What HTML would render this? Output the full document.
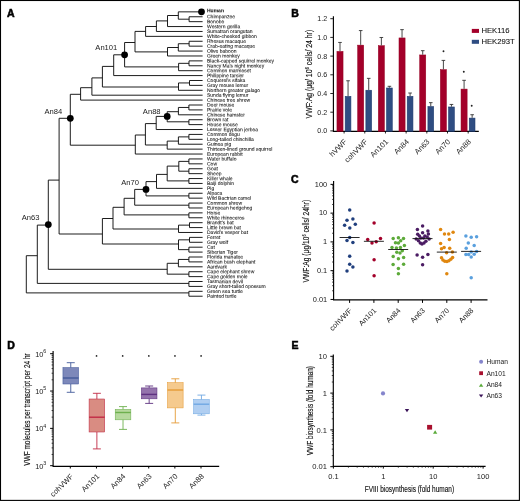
<!DOCTYPE html>
<html><head><meta charset="utf-8"><title>Figure</title><style>
html,body{margin:0;padding:0;background:#fff;width:520px;height:501px;overflow:hidden;}
svg{display:block;font-family:"Liberation Sans",sans-serif;}
svg{will-change:transform;}
</style></head><body>
<svg width="520" height="501" viewBox="0 0 520 501">
<rect width="520" height="501" fill="#fff"/>
<path d="M189.10 16.75V21.66 M189.10 16.75H202.6 M189.10 21.66H202.6 M178.30 11.85V19.20 M178.30 11.85H202.6 M178.30 19.20H189.10 M167.50 15.50V26.56 M167.50 15.50H178.30 M167.50 26.56H202.6 M156.40 20.90V31.46 M156.40 20.90H167.50 M156.40 31.46H202.6 M145.60 26.50V36.36 M145.60 26.50H156.40 M145.60 36.36H202.6 M189.10 41.27V46.17 M189.10 41.27H202.6 M189.10 46.17H202.6 M178.30 43.72V51.07 M178.30 43.72H189.10 M178.30 51.07H202.6 M167.50 47.50V55.98 M167.50 47.50H178.30 M167.50 55.98H202.6 M135.00 31.40V51.90 M135.00 31.40H145.60 M135.00 51.90H167.50 M189.00 60.88V65.78 M189.00 60.88H202.6 M189.00 65.78H202.6 M178.60 63.33V70.69 M178.60 63.33H189.00 M178.60 70.69H202.6 M124.60 42.50V66.90 M124.60 42.50H135.00 M124.60 66.90H178.60 M113.70 54.80V75.59 M113.70 54.80H124.60 M113.70 75.59H202.6 M189.50 80.49V85.39 M189.50 80.49H202.6 M189.50 85.39H202.6 M178.50 82.94V90.30 M178.50 82.94H189.50 M178.50 90.30H202.6 M102.40 66.40V87.00 M102.40 66.40H113.70 M102.40 87.00H178.50 M91.90 77.90V95.20 M91.90 77.90H102.40 M91.90 95.20H202.6 M80.60 87.70V100.10 M80.60 87.70H91.90 M80.60 100.10H202.6 M188.90 105.01V109.91 M188.90 105.01H202.6 M188.90 109.91H202.6 M178.40 107.46V114.81 M178.40 107.46H188.90 M178.40 114.81H202.6 M188.90 119.72V124.62 M188.90 119.72H202.6 M188.90 124.62H202.6 M167.20 111.70V121.80 M167.20 111.70H178.40 M167.20 121.80H188.90 M156.20 116.40V129.52 M156.20 116.40H167.20 M156.20 129.52H202.6 M188.90 134.42V139.33 M188.90 134.42H202.6 M188.90 139.33H202.6 M178.40 136.88V144.23 M178.40 136.88H188.90 M178.40 144.23H202.6 M167.20 141.10V149.13 M167.20 141.10H178.40 M167.20 149.13H202.6 M145.40 123.60V145.00 M145.40 123.60H156.20 M145.40 145.00H167.20 M135.30 135.00V154.04 M135.30 135.00H145.40 M135.30 154.04H202.6 M70.30 94.30V145.20 M70.30 94.30H80.60 M70.30 145.20H135.30 M188.90 158.94V163.84 M188.90 158.94H202.6 M188.90 163.84H202.6 M188.90 168.75V173.65 M188.90 168.75H202.6 M188.90 173.65H202.6 M178.80 161.39V171.20 M178.80 161.39H188.90 M178.80 171.20H188.90 M188.90 178.55V183.45 M188.90 178.55H202.6 M188.90 183.45H202.6 M167.20 166.10V180.90 M167.20 166.10H178.80 M167.20 180.90H188.90 M156.50 174.40V188.36 M156.50 174.40H167.20 M156.50 188.36H202.6 M188.90 193.26V198.16 M188.90 193.26H202.6 M188.90 198.16H202.6 M146.00 181.60V195.90 M146.00 181.60H156.50 M146.00 195.90H188.90 M188.90 203.07V207.97 M188.90 203.07H202.6 M188.90 207.97H202.6 M134.70 189.40V205.20 M134.70 189.40H146.00 M134.70 205.20H188.90 M188.90 212.87V217.78 M188.90 212.87H202.6 M188.90 217.78H202.6 M124.10 198.30V214.90 M124.10 198.30H134.70 M124.10 214.90H188.90 M189.50 222.68V227.58 M189.50 222.68H202.6 M189.50 227.58H202.6 M178.50 225.13V232.48 M178.50 225.13H189.50 M178.50 232.48H202.6 M113.00 207.30V229.00 M113.00 207.30H124.10 M113.00 229.00H178.50 M189.50 237.39V242.29 M189.50 237.39H202.6 M189.50 242.29H202.6 M188.90 247.19V252.10 M188.90 247.19H202.6 M188.90 252.10H202.6 M178.50 239.84V249.65 M178.50 239.84H189.50 M178.50 249.65H188.90 M102.40 218.50V244.00 M102.40 218.50H113.00 M102.40 244.00H178.50 M59.10 118.30V234.00 M59.10 118.30H70.30 M59.10 234.00H102.40 M188.90 257.00V261.90 M188.90 257.00H202.6 M188.90 261.90H202.6 M178.40 259.45V266.81 M178.40 259.45H188.90 M178.40 266.81H202.6 M188.90 271.71V276.61 M188.90 271.71H202.6 M188.90 276.61H202.6 M167.20 263.30V274.16 M167.20 263.30H178.40 M167.20 274.16H188.90 M48.30 180.10V269.30 M48.30 180.10H59.10 M48.30 269.30H167.20 M188.90 281.51V286.42 M188.90 281.51H202.6 M188.90 286.42H202.6 M37.30 225.10V283.40 M37.30 225.10H48.30 M37.30 283.40H188.90 M188.90 291.32V296.22 M188.90 291.32H202.6 M188.90 296.22H202.6 M26.30 255.70V292.90 M26.30 255.70H37.30 M26.30 292.90H188.90" fill="none" stroke="#111" stroke-width="0.95"/>
<circle cx="201.5" cy="11.85" r="3.4" fill="#000"/>
<circle cx="124.6" cy="54.80" r="3.4" fill="#000"/>
<circle cx="70.3" cy="118.30" r="3.4" fill="#000"/>
<circle cx="167.2" cy="116.40" r="3.4" fill="#000"/>
<circle cx="146.0" cy="189.40" r="3.4" fill="#000"/>
<circle cx="48.3" cy="224.60" r="3.4" fill="#000"/>
<text x="117.3" y="50.3" font-size="7.6" text-anchor="end" fill="#1a1a1a">An101</text>
<text x="62.3" y="114.0" font-size="7.6" text-anchor="end" fill="#1a1a1a">An84</text>
<text x="39.5" y="220.3" font-size="7.6" text-anchor="end" fill="#1a1a1a">An63</text>
<text x="160.6" y="113.7" font-size="7.6" text-anchor="end" fill="#1a1a1a">An88</text>
<text x="139.0" y="184.7" font-size="7.6" text-anchor="end" fill="#1a1a1a">An70</text>
<g font-size="5" fill="#111" stroke="#111" stroke-width="0.06">
<text transform="translate(207 12.25) skewY(0.03)" font-weight="bold">Human</text>
<text transform="translate(207 18.35) skewY(0.03)">Chimpanzee</text>
<text transform="translate(207 23.26) skewY(0.03)">Bonobo</text>
<text transform="translate(207 28.16) skewY(0.03)">Western gorilla</text>
<text transform="translate(207 33.06) skewY(0.03)">Sumatran orangutan</text>
<text transform="translate(207 37.96) skewY(0.03)">White-cheeked gibbon</text>
<text transform="translate(207 42.87) skewY(0.03)">Rhesus macaque</text>
<text transform="translate(207 47.77) skewY(0.03)">Crab-eating macaque</text>
<text transform="translate(207 52.67) skewY(0.03)">Olive baboon</text>
<text transform="translate(207 57.58) skewY(0.03)">Green monkey</text>
<text transform="translate(207 62.48) skewY(0.03)">Black-capped squirrel monkey</text>
<text transform="translate(207 67.38) skewY(0.03)">Nancy Ma&#8217;s night monkey</text>
<text transform="translate(207 72.29) skewY(0.03)">Common marmoset</text>
<text transform="translate(207 77.19) skewY(0.03)">Philippine tarsier</text>
<text transform="translate(207 82.09) skewY(0.03)">Coquerel&#8217;s sifaka</text>
<text transform="translate(207 86.99) skewY(0.03)">Gray mouse lemur</text>
<text transform="translate(207 91.90) skewY(0.03)">Northern greater galago</text>
<text transform="translate(207 96.80) skewY(0.03)">Sunda flying lemur</text>
<text transform="translate(207 101.70) skewY(0.03)">Chinese tree shrew</text>
<text transform="translate(207 106.61) skewY(0.03)">Deer mouse</text>
<text transform="translate(207 111.51) skewY(0.03)">Prairie vole</text>
<text transform="translate(207 116.41) skewY(0.03)">Chinese hamster</text>
<text transform="translate(207 121.32) skewY(0.03)">Brown rat</text>
<text transform="translate(207 126.22) skewY(0.03)">House mouse</text>
<text transform="translate(207 131.12) skewY(0.03)">Lesser Egyptian jerboa</text>
<text transform="translate(207 136.02) skewY(0.03)">Common degu</text>
<text transform="translate(207 140.93) skewY(0.03)">Long-tailed chinchilla</text>
<text transform="translate(207 145.83) skewY(0.03)">Guinea pig</text>
<text transform="translate(207 150.73) skewY(0.03)">Thirteen-lined ground squirrel</text>
<text transform="translate(207 155.64) skewY(0.03)">European rabbit</text>
<text transform="translate(207 160.54) skewY(0.03)">Water buffalo</text>
<text transform="translate(207 165.44) skewY(0.03)">Cow</text>
<text transform="translate(207 170.35) skewY(0.03)">Goat</text>
<text transform="translate(207 175.25) skewY(0.03)">Sheep</text>
<text transform="translate(207 180.15) skewY(0.03)">Killer whale</text>
<text transform="translate(207 185.05) skewY(0.03)">Baiji dolphin</text>
<text transform="translate(207 189.96) skewY(0.03)">Pig</text>
<text transform="translate(207 194.86) skewY(0.03)">Alpaca</text>
<text transform="translate(207 199.76) skewY(0.03)">Wild Bactrian camel</text>
<text transform="translate(207 204.67) skewY(0.03)">Common shrew</text>
<text transform="translate(207 209.57) skewY(0.03)">European hedgehog</text>
<text transform="translate(207 214.47) skewY(0.03)">Horse</text>
<text transform="translate(207 219.38) skewY(0.03)">White rhinoceros</text>
<text transform="translate(207 224.28) skewY(0.03)">Brandt&#8217;s bat</text>
<text transform="translate(207 229.18) skewY(0.03)">Little brown bat</text>
<text transform="translate(207 234.08) skewY(0.03)">David&#8217;s vesper bat</text>
<text transform="translate(207 238.99) skewY(0.03)">Ferret</text>
<text transform="translate(207 243.89) skewY(0.03)">Gray wolf</text>
<text transform="translate(207 248.79) skewY(0.03)">Cat</text>
<text transform="translate(207 253.70) skewY(0.03)">Siberian Tiger</text>
<text transform="translate(207 258.60) skewY(0.03)">Florida manatee</text>
<text transform="translate(207 263.50) skewY(0.03)">African bush elephant</text>
<text transform="translate(207 268.41) skewY(0.03)">Aardvark</text>
<text transform="translate(207 273.31) skewY(0.03)">Cape elephant shrew</text>
<text transform="translate(207 278.21) skewY(0.03)">Cape golden mole</text>
<text transform="translate(207 283.12) skewY(0.03)">Tasmanian devil</text>
<text transform="translate(207 288.02) skewY(0.03)">Gray short-tailed opossum</text>
<text transform="translate(207 292.92) skewY(0.03)">Green sea turtle</text>
<text transform="translate(207 297.82) skewY(0.03)">Painted turtle</text>
</g>
<text x="7" y="16.7" font-size="10.5" font-weight="bold" fill="#000" stroke="#000" stroke-width="0.55">A</text>
<text x="291.3" y="17.0" font-size="10.5" font-weight="bold" fill="#000" stroke="#000" stroke-width="0.55">B</text>
<text x="291.1" y="183.1" font-size="10.5" font-weight="bold" fill="#000" stroke="#000" stroke-width="0.55">C</text>
<text x="7.3" y="349.1" font-size="10.5" font-weight="bold" fill="#000" stroke="#000" stroke-width="0.55">D</text>
<text x="291.5" y="349.1" font-size="10.5" font-weight="bold" fill="#000" stroke="#000" stroke-width="0.55">E</text>
<path d="M333.4 16.2V131.3H478.8" fill="none" stroke="#000" stroke-width="1.15"/>
<text x="327.2" y="133.40" font-size="7.1" text-anchor="end" fill="#1a1a1a">0.0</text>
<text x="327.2" y="114.70" font-size="7.1" text-anchor="end" fill="#1a1a1a">0.2</text>
<text x="327.2" y="96.00" font-size="7.1" text-anchor="end" fill="#1a1a1a">0.4</text>
<text x="327.2" y="77.30" font-size="7.1" text-anchor="end" fill="#1a1a1a">0.6</text>
<text x="327.2" y="58.60" font-size="7.1" text-anchor="end" fill="#1a1a1a">0.8</text>
<text x="327.2" y="39.90" font-size="7.1" text-anchor="end" fill="#1a1a1a">1.0</text>
<text x="327.2" y="21.20" font-size="7.1" text-anchor="end" fill="#1a1a1a">1.2</text>
<rect x="336.95" y="51.39" width="6.1" height="79.91" fill="#A3002A" stroke="#950022" stroke-width="0.5"/>
<rect x="345.20" y="96.42" width="5.7" height="34.88" fill="#2F4D82" stroke="#1D3A6E" stroke-width="0.6"/>
<text transform="translate(347.40 142.30) rotate(-45)" font-size="7.6" text-anchor="end" fill="#1a1a1a">hVWF</text>
<rect x="357.63" y="45.13" width="6.1" height="86.17" fill="#A3002A" stroke="#950022" stroke-width="0.5"/>
<rect x="365.88" y="90.25" width="5.7" height="41.05" fill="#2F4D82" stroke="#1D3A6E" stroke-width="0.6"/>
<text transform="translate(368.08 142.30) rotate(-45)" font-size="7.6" text-anchor="end" fill="#1a1a1a">cohVWF</text>
<rect x="378.31" y="45.69" width="6.1" height="85.61" fill="#A3002A" stroke="#950022" stroke-width="0.5"/>
<rect x="386.56" y="88.00" width="5.7" height="43.30" fill="#2F4D82" stroke="#1D3A6E" stroke-width="0.6"/>
<text transform="translate(388.76 142.30) rotate(-45)" font-size="7.6" text-anchor="end" fill="#1a1a1a">An101</text>
<rect x="398.99" y="37.93" width="6.1" height="93.37" fill="#A3002A" stroke="#950022" stroke-width="0.5"/>
<rect x="407.24" y="96.42" width="5.7" height="34.88" fill="#2F4D82" stroke="#1D3A6E" stroke-width="0.6"/>
<text transform="translate(409.44 142.30) rotate(-45)" font-size="7.6" text-anchor="end" fill="#1a1a1a">An84</text>
<rect x="419.67" y="54.95" width="6.1" height="76.35" fill="#A3002A" stroke="#950022" stroke-width="0.5"/>
<rect x="427.92" y="106.61" width="5.7" height="24.69" fill="#2F4D82" stroke="#1D3A6E" stroke-width="0.6"/>
<text transform="translate(430.12 142.30) rotate(-45)" font-size="7.6" text-anchor="end" fill="#1a1a1a">An63</text>
<rect x="440.35" y="69.63" width="6.1" height="61.67" fill="#A3002A" stroke="#950022" stroke-width="0.5"/>
<rect x="448.60" y="106.98" width="5.7" height="24.32" fill="#2F4D82" stroke="#1D3A6E" stroke-width="0.6"/>
<text transform="translate(450.80 142.30) rotate(-45)" font-size="7.6" text-anchor="end" fill="#1a1a1a">An70</text>
<rect x="461.03" y="89.08" width="6.1" height="42.23" fill="#A3002A" stroke="#950022" stroke-width="0.5"/>
<rect x="469.28" y="118.11" width="5.7" height="13.19" fill="#2F4D82" stroke="#1D3A6E" stroke-width="0.6"/>
<text transform="translate(471.48 142.30) rotate(-45)" font-size="7.6" text-anchor="end" fill="#1a1a1a">An88</text>
<path d="M330.3 130.90H333.4 M330.3 112.20H333.4 M330.3 93.50H333.4 M330.3 74.80H333.4 M330.3 56.10H333.4 M330.3 37.40H333.4 M330.3 18.70H333.4 M344.10 131.3V133.5 M364.78 131.3V133.5 M385.46 131.3V133.5 M406.14 131.3V133.5 M426.82 131.3V133.5 M447.50 131.3V133.5 M468.18 131.3V133.5" stroke="#111" stroke-width="0.9" fill="none"/>
<path d="M340.00 51.14V42.45M338.20 42.45H341.80 M348.05 96.12V80.78M346.25 80.78H349.85 M360.68 44.88V30.57M358.88 30.57H362.48 M368.73 89.95V78.35M366.93 78.35H370.53 M381.36 45.44V37.49M379.56 37.49H383.16 M389.41 87.70V86.30M387.61 86.30H391.21 M402.04 37.68V29.64M400.24 29.64H403.84 M410.09 96.12V93.03M408.29 93.03H411.89 M422.72 54.70V50.68M420.92 50.68H424.52 M430.77 106.31V102.66M428.97 102.66H432.57 M443.40 69.38V60.40M441.60 60.40H445.20 M451.45 106.68V104.44M449.65 104.44H453.25 M464.08 88.83V80.32M462.28 80.32H465.88 M472.13 117.81V114.72M470.33 114.72H473.93" stroke="#333" stroke-width="0.9" fill="none"/>
<circle cx="443.5" cy="51.2" r="0.95" fill="#222"/>
<circle cx="463.8" cy="71.8" r="0.95" fill="#222"/>
<circle cx="471.7" cy="105.8" r="0.95" fill="#222"/>
<rect x="471.8" y="28.9" width="7.2" height="4.0" fill="#A3002A"/>
<rect x="471.8" y="39.8" width="7.2" height="4.0" fill="#2F4D82"/>
<text x="481.4" y="33.0" font-size="7.7" fill="#111" stroke="#111" stroke-width="0.08">HEK116</text>
<text x="481.4" y="44.0" font-size="7.7" fill="#111" stroke="#111" stroke-width="0.08">HEK293T</text>
<text transform="translate(312.0 74.1) rotate(-90)" font-size="8.8" text-anchor="middle" textLength="88.6" lengthAdjust="spacingAndGlyphs" fill="#111" stroke="#111" stroke-width="0.15">VWF:Ag (&#956;g/ 10<tspan font-size="5.5" dy="-3">6</tspan><tspan dy="3"> cells/ 24 hr)</tspan></text>
<path d="M333.6 181.0V299.9H487.5" fill="none" stroke="#000" stroke-width="1.15"/>
<text x="327.2" y="301.74" font-size="7.4" text-anchor="end" fill="#1a1a1a">0.01</text>
<text x="327.2" y="272.97" font-size="7.4" text-anchor="end" fill="#1a1a1a">0.1</text>
<text x="327.2" y="244.20" font-size="7.4" text-anchor="end" fill="#1a1a1a">1</text>
<text x="327.2" y="215.43" font-size="7.4" text-anchor="end" fill="#1a1a1a">10</text>
<text x="327.2" y="186.66" font-size="7.4" text-anchor="end" fill="#1a1a1a">100</text>
<circle cx="349.7" cy="210.1" r="1.75" fill="#203F7D"/>
<circle cx="347" cy="220.3" r="1.75" fill="#203F7D"/>
<circle cx="352.9" cy="219.1" r="1.75" fill="#203F7D"/>
<circle cx="344.6" cy="225.2" r="1.75" fill="#203F7D"/>
<circle cx="355.3" cy="224.3" r="1.75" fill="#203F7D"/>
<circle cx="349.8" cy="227.9" r="1.75" fill="#203F7D"/>
<circle cx="349.7" cy="237.5" r="1.75" fill="#203F7D"/>
<circle cx="347" cy="240.4" r="1.75" fill="#203F7D"/>
<circle cx="352.9" cy="242.6" r="1.75" fill="#203F7D"/>
<circle cx="349.7" cy="256.3" r="1.75" fill="#203F7D"/>
<circle cx="349.7" cy="264.3" r="1.75" fill="#203F7D"/>
<circle cx="352.9" cy="267" r="1.75" fill="#203F7D"/>
<circle cx="347" cy="271" r="1.75" fill="#203F7D"/>
<path d="M339.60 237.5H359.60" stroke="#111" stroke-width="0.9"/>
<text transform="translate(352.50 311.10) rotate(-45)" font-size="7.4" text-anchor="end" fill="#1a1a1a">cohVWF</text>
<circle cx="374.1" cy="223.1" r="1.75" fill="#A3002A"/>
<circle cx="367.7" cy="239.6" r="1.75" fill="#A3002A"/>
<circle cx="372" cy="243.1" r="1.75" fill="#A3002A"/>
<circle cx="376.2" cy="241.8" r="1.75" fill="#A3002A"/>
<circle cx="380.5" cy="238.6" r="1.75" fill="#A3002A"/>
<circle cx="374.1" cy="259.8" r="1.75" fill="#A3002A"/>
<circle cx="374.1" cy="275.8" r="1.75" fill="#A3002A"/>
<path d="M363.90 241.3H383.90" stroke="#111" stroke-width="0.9"/>
<text transform="translate(376.80 311.10) rotate(-45)" font-size="7.4" text-anchor="end" fill="#1a1a1a">An101</text>
<circle cx="393.2" cy="238.6" r="1.75" fill="#5DAA3A"/>
<circle cx="398.4" cy="237.8" r="1.75" fill="#5DAA3A"/>
<circle cx="403.5" cy="238.6" r="1.75" fill="#5DAA3A"/>
<circle cx="395.5" cy="242.8" r="1.75" fill="#5DAA3A"/>
<circle cx="400.7" cy="240.7" r="1.75" fill="#5DAA3A"/>
<circle cx="398.4" cy="243.1" r="1.75" fill="#5DAA3A"/>
<circle cx="404.4" cy="245.5" r="1.75" fill="#5DAA3A"/>
<circle cx="392" cy="247.4" r="1.75" fill="#5DAA3A"/>
<circle cx="396.4" cy="247.9" r="1.75" fill="#5DAA3A"/>
<circle cx="400.4" cy="247.6" r="1.75" fill="#5DAA3A"/>
<circle cx="402.3" cy="250.7" r="1.75" fill="#5DAA3A"/>
<circle cx="396.8" cy="252.3" r="1.75" fill="#5DAA3A"/>
<circle cx="400" cy="253.1" r="1.75" fill="#5DAA3A"/>
<circle cx="393.2" cy="256.6" r="1.75" fill="#5DAA3A"/>
<circle cx="398.4" cy="258.7" r="1.75" fill="#5DAA3A"/>
<circle cx="403.6" cy="257.4" r="1.75" fill="#5DAA3A"/>
<circle cx="393.1" cy="264.6" r="1.75" fill="#5DAA3A"/>
<circle cx="403.6" cy="264.3" r="1.75" fill="#5DAA3A"/>
<circle cx="398.4" cy="268.6" r="1.75" fill="#5DAA3A"/>
<circle cx="398.4" cy="273.7" r="1.75" fill="#5DAA3A"/>
<path d="M388.20 249.5H408.20" stroke="#111" stroke-width="0.9"/>
<text transform="translate(401.10 311.10) rotate(-45)" font-size="7.4" text-anchor="end" fill="#1a1a1a">An84</text>
<circle cx="422.6" cy="226.1" r="1.75" fill="#4B1C63"/>
<circle cx="417.4" cy="229.4" r="1.75" fill="#4B1C63"/>
<circle cx="427.9" cy="231.0" r="1.75" fill="#4B1C63"/>
<circle cx="422.6" cy="232.8" r="1.75" fill="#4B1C63"/>
<circle cx="417.7" cy="234.2" r="1.75" fill="#4B1C63"/>
<circle cx="428.4" cy="234.0" r="1.75" fill="#4B1C63"/>
<circle cx="416.2" cy="238.9" r="1.75" fill="#4B1C63"/>
<circle cx="418.5" cy="240.7" r="1.75" fill="#4B1C63"/>
<circle cx="420.3" cy="243.0" r="1.75" fill="#4B1C63"/>
<circle cx="422.0" cy="243.9" r="1.75" fill="#4B1C63"/>
<circle cx="424.0" cy="243.0" r="1.75" fill="#4B1C63"/>
<circle cx="425.9" cy="241.2" r="1.75" fill="#4B1C63"/>
<circle cx="429.1" cy="238.9" r="1.75" fill="#4B1C63"/>
<circle cx="419.4" cy="236.1" r="1.75" fill="#4B1C63"/>
<circle cx="424.9" cy="236.1" r="1.75" fill="#4B1C63"/>
<circle cx="427.2" cy="237.0" r="1.75" fill="#4B1C63"/>
<circle cx="420.8" cy="237.9" r="1.75" fill="#4B1C63"/>
<circle cx="423.5" cy="237.9" r="1.75" fill="#4B1C63"/>
<circle cx="417.1" cy="255.0" r="1.75" fill="#4B1C63"/>
<circle cx="422.6" cy="257.3" r="1.75" fill="#4B1C63"/>
<circle cx="427.9" cy="254.4" r="1.75" fill="#4B1C63"/>
<circle cx="422.6" cy="264.7" r="1.75" fill="#4B1C63"/>
<path d="M412.50 238.6H432.50" stroke="#111" stroke-width="0.9"/>
<text transform="translate(425.40 311.10) rotate(-45)" font-size="7.4" text-anchor="end" fill="#1a1a1a">An63</text>
<circle cx="440.6" cy="229.6" r="1.75" fill="#E0870F"/>
<circle cx="444.5" cy="234.0" r="1.75" fill="#E0870F"/>
<circle cx="448.7" cy="234.0" r="1.75" fill="#E0870F"/>
<circle cx="453.1" cy="232.2" r="1.75" fill="#E0870F"/>
<circle cx="449.4" cy="239.6" r="1.75" fill="#E0870F"/>
<circle cx="440.6" cy="243.5" r="1.75" fill="#E0870F"/>
<circle cx="441.5" cy="248.8" r="1.75" fill="#E0870F"/>
<circle cx="444.1" cy="247.4" r="1.75" fill="#E0870F"/>
<circle cx="449.7" cy="248.3" r="1.75" fill="#E0870F"/>
<circle cx="446.6" cy="252.7" r="1.75" fill="#E0870F"/>
<circle cx="452.4" cy="252.1" r="1.75" fill="#E0870F"/>
<circle cx="441.5" cy="257.8" r="1.75" fill="#E0870F"/>
<circle cx="442.9" cy="260.1" r="1.75" fill="#E0870F"/>
<circle cx="444.8" cy="261.2" r="1.75" fill="#E0870F"/>
<circle cx="446.9" cy="261.5" r="1.75" fill="#E0870F"/>
<circle cx="448.9" cy="260.8" r="1.75" fill="#E0870F"/>
<circle cx="450.8" cy="259.3" r="1.75" fill="#E0870F"/>
<circle cx="452.6" cy="257.5" r="1.75" fill="#E0870F"/>
<circle cx="446.8" cy="273.7" r="1.75" fill="#E0870F"/>
<path d="M436.80 252.1H456.80" stroke="#111" stroke-width="0.9"/>
<text transform="translate(449.70 311.10) rotate(-45)" font-size="7.4" text-anchor="end" fill="#1a1a1a">An70</text>
<circle cx="465.9" cy="235.9" r="1.75" fill="#5AA0DE"/>
<circle cx="471.2" cy="237.2" r="1.75" fill="#5AA0DE"/>
<circle cx="476.6" cy="236.7" r="1.75" fill="#5AA0DE"/>
<circle cx="468.3" cy="243.1" r="1.75" fill="#5AA0DE"/>
<circle cx="474.2" cy="245.5" r="1.75" fill="#5AA0DE"/>
<circle cx="466.2" cy="248.2" r="1.75" fill="#5AA0DE"/>
<circle cx="471.2" cy="251.9" r="1.75" fill="#5AA0DE"/>
<circle cx="476.6" cy="251.4" r="1.75" fill="#5AA0DE"/>
<circle cx="465.9" cy="254.6" r="1.75" fill="#5AA0DE"/>
<circle cx="468.6" cy="254.6" r="1.75" fill="#5AA0DE"/>
<circle cx="474.2" cy="254.3" r="1.75" fill="#5AA0DE"/>
<circle cx="471.2" cy="257.1" r="1.75" fill="#5AA0DE"/>
<circle cx="471.2" cy="277.7" r="1.75" fill="#5AA0DE"/>
<path d="M461.10 251.4H481.10" stroke="#111" stroke-width="0.9"/>
<text transform="translate(474.00 311.10) rotate(-45)" font-size="7.4" text-anchor="end" fill="#1a1a1a">An88</text>
<path d="M332.1 290.78H333.6 M332.1 285.71H333.6 M332.1 282.12H333.6 M332.1 279.33H333.6 M332.1 277.05H333.6 M332.1 275.13H333.6 M332.1 273.46H333.6 M332.1 271.99H333.6 M332.1 262.01H333.6 M332.1 256.94H333.6 M332.1 253.35H333.6 M332.1 250.56H333.6 M332.1 248.28H333.6 M332.1 246.36H333.6 M332.1 244.69H333.6 M332.1 243.22H333.6 M332.1 233.24H333.6 M332.1 228.17H333.6 M332.1 224.58H333.6 M332.1 221.79H333.6 M332.1 219.51H333.6 M332.1 217.59H333.6 M332.1 215.92H333.6 M332.1 214.45H333.6 M332.1 204.47H333.6 M332.1 199.40H333.6 M332.1 195.81H333.6 M332.1 193.02H333.6 M332.1 190.74H333.6 M332.1 188.82H333.6 M332.1 187.15H333.6 M332.1 185.68H333.6" stroke="#111" stroke-width="0.8" fill="none"/>
<path d="M330.5 299.44H333.6 M330.5 270.67H333.6 M330.5 241.90H333.6 M330.5 213.13H333.6 M330.5 184.36H333.6 M349.60 299.9V302.9 M373.90 299.9V302.9 M398.20 299.9V302.9 M422.50 299.9V302.9 M446.80 299.9V302.9 M471.10 299.9V302.9" stroke="#000" stroke-width="1.0" fill="none"/>
<text transform="translate(308.9 241.1) rotate(-90)" font-size="8.4" text-anchor="middle" textLength="82.6" lengthAdjust="spacingAndGlyphs" fill="#111" stroke="#111" stroke-width="0.15">VWF:Ag (&#956;g/10<tspan font-size="5" dy="-2.8">6</tspan><tspan dy="2.8"> cells/ 24hr)</tspan></text>
<path d="M53.1 351.0V466.3H219.2" fill="none" stroke="#000" stroke-width="1.15"/>
<text x="43.4" y="468.70" font-size="7.4" text-anchor="end" fill="#1a1a1a">10</text>
<text x="43.3" y="465.10" font-size="5.3" fill="#1a1a1a">3</text>
<text x="43.4" y="431.37" font-size="7.4" text-anchor="end" fill="#1a1a1a">10</text>
<text x="43.3" y="427.77" font-size="5.3" fill="#1a1a1a">4</text>
<text x="43.4" y="394.04" font-size="7.4" text-anchor="end" fill="#1a1a1a">10</text>
<text x="43.3" y="390.44" font-size="5.3" fill="#1a1a1a">5</text>
<text x="43.4" y="356.71" font-size="7.4" text-anchor="end" fill="#1a1a1a">10</text>
<text x="43.3" y="353.11" font-size="5.3" fill="#1a1a1a">6</text>
<rect x="62.95" y="367.6" width="15.6" height="16.40" fill="#7D88BA" stroke="#42599A" stroke-width="0.55"/>
<path d="M70.75 362.7V367.6M70.75 384V392.3M66.75 362.7H74.75M66.75 392.3H74.75" stroke="#42599A" stroke-width="0.9" fill="none"/>
<path d="M62.95 378H78.55" stroke="#42599A" stroke-width="1.4"/>
<text transform="translate(73.70 476.90) rotate(-45)" font-size="7.5" text-anchor="end" fill="#1a1a1a">cohVWF</text>
<rect x="89.09" y="399" width="15.6" height="33.00" fill="#D98C82" stroke="#C22A45" stroke-width="0.55"/>
<path d="M96.89 393.3V399M96.89 432V448.9M92.89 393.3H100.89M92.89 448.9H100.89" stroke="#C22A45" stroke-width="0.9" fill="none"/>
<path d="M89.09 417.2H104.69" stroke="#C22A45" stroke-width="1.4"/>
<circle cx="96.54" cy="355.9" r="0.85" fill="#222"/>
<text transform="translate(99.84 476.90) rotate(-45)" font-size="7.5" text-anchor="end" fill="#1a1a1a">An101</text>
<rect x="115.23" y="409.4" width="15.6" height="10.40" fill="#B6D99E" stroke="#6DB04E" stroke-width="0.55"/>
<path d="M123.03 406.6V409.4M123.03 419.8V429.4M119.03 406.6H127.03M119.03 429.4H127.03" stroke="#6DB04E" stroke-width="0.9" fill="none"/>
<path d="M115.23 412.5H130.83" stroke="#6DB04E" stroke-width="1.4"/>
<circle cx="122.68" cy="355.9" r="0.85" fill="#222"/>
<text transform="translate(125.98 476.90) rotate(-45)" font-size="7.5" text-anchor="end" fill="#1a1a1a">An84</text>
<rect x="141.37" y="387.9" width="15.6" height="10.90" fill="#9473AC" stroke="#5E3180" stroke-width="0.55"/>
<path d="M149.17 386V387.9M149.17 398.8V403.4M145.17 386H153.17M145.17 403.4H153.17" stroke="#5E3180" stroke-width="0.9" fill="none"/>
<path d="M141.37 394.4H156.97" stroke="#5E3180" stroke-width="1.4"/>
<circle cx="148.82" cy="355.9" r="0.85" fill="#222"/>
<text transform="translate(152.12 476.90) rotate(-45)" font-size="7.5" text-anchor="end" fill="#1a1a1a">An63</text>
<rect x="167.51" y="382.7" width="15.6" height="25.20" fill="#F5CA8E" stroke="#E59B36" stroke-width="0.55"/>
<path d="M175.31 378.8V382.7M175.31 407.9V422.9M171.31 378.8H179.31M171.31 422.9H179.31" stroke="#E59B36" stroke-width="0.9" fill="none"/>
<path d="M167.51 390H183.11" stroke="#E59B36" stroke-width="1.4"/>
<circle cx="174.96" cy="355.9" r="0.85" fill="#222"/>
<text transform="translate(178.26 476.90) rotate(-45)" font-size="7.5" text-anchor="end" fill="#1a1a1a">An70</text>
<rect x="193.65" y="399.5" width="15.6" height="14.30" fill="#B0CEF1" stroke="#70A8E2" stroke-width="0.55"/>
<path d="M201.45 395.1V399.5M201.45 413.8V415.1M197.45 395.1H205.45M197.45 415.1H205.45" stroke="#70A8E2" stroke-width="0.9" fill="none"/>
<path d="M193.65 404.2H209.25" stroke="#70A8E2" stroke-width="1.4"/>
<circle cx="201.10" cy="355.9" r="0.85" fill="#222"/>
<text transform="translate(204.40 476.90) rotate(-45)" font-size="7.5" text-anchor="end" fill="#1a1a1a">An88</text>
<path d="M51.6 454.46H53.1 M51.6 447.89H53.1 M51.6 443.23H53.1 M51.6 439.61H53.1 M51.6 436.65H53.1 M51.6 434.15H53.1 M51.6 431.99H53.1 M51.6 430.08H53.1 M51.6 417.13H53.1 M51.6 410.56H53.1 M51.6 405.90H53.1 M51.6 402.28H53.1 M51.6 399.32H53.1 M51.6 396.82H53.1 M51.6 394.66H53.1 M51.6 392.75H53.1 M51.6 379.80H53.1 M51.6 373.23H53.1 M51.6 368.57H53.1 M51.6 364.95H53.1 M51.6 361.99H53.1 M51.6 359.49H53.1 M51.6 357.33H53.1 M51.6 355.42H53.1" stroke="#111" stroke-width="0.8" fill="none"/>
<path d="M50.1 465.70H53.1 M50.1 428.37H53.1 M50.1 391.04H53.1 M50.1 353.71H53.1 M70.30 466.3V468.5 M96.44 466.3V468.5 M122.58 466.3V468.5 M148.72 466.3V468.5 M174.86 466.3V468.5 M201.00 466.3V468.5" stroke="#000" stroke-width="1.0" fill="none"/>
<text transform="translate(30.0 409.5) rotate(-90)" font-size="8.3" text-anchor="middle" textLength="112.3" lengthAdjust="spacingAndGlyphs" fill="#111" stroke="#111" stroke-width="0.15">VWF molecules per transcript per 24 hr</text>
<path d="M333.3 354.6V466.4H485.6" fill="none" stroke="#000" stroke-width="1.15"/>
<text x="327.0" y="469.40" font-size="7.6" text-anchor="end" fill="#1a1a1a">0.01</text>
<text x="327.0" y="432.60" font-size="7.6" text-anchor="end" fill="#1a1a1a">0.1</text>
<text x="327.0" y="395.80" font-size="7.6" text-anchor="end" fill="#1a1a1a">1</text>
<text x="327.0" y="359.00" font-size="7.6" text-anchor="end" fill="#1a1a1a">10</text>
<text x="333.40" y="479.4" font-size="7.5" text-anchor="middle" fill="#1a1a1a">0.1</text>
<text x="383.30" y="479.4" font-size="7.5" text-anchor="middle" fill="#1a1a1a">1</text>
<text x="433.20" y="479.4" font-size="7.5" text-anchor="middle" fill="#1a1a1a">10</text>
<text x="483.10" y="479.4" font-size="7.5" text-anchor="middle" fill="#1a1a1a">100</text>
<path d="M331.8 455.62H333.3 M331.8 449.14H333.3 M331.8 444.54H333.3 M331.8 440.98H333.3 M331.8 438.06H333.3 M331.8 435.60H333.3 M331.8 433.47H333.3 M331.8 431.58H333.3 M331.8 418.82H333.3 M331.8 412.34H333.3 M331.8 407.74H333.3 M331.8 404.18H333.3 M331.8 401.26H333.3 M331.8 398.80H333.3 M331.8 396.67H333.3 M331.8 394.78H333.3 M331.8 382.02H333.3 M331.8 375.54H333.3 M331.8 370.94H333.3 M331.8 367.38H333.3 M331.8 364.46H333.3 M331.8 362.00H333.3 M331.8 359.87H333.3 M331.8 357.98H333.3 M348.42 466.4V467.7 M357.21 466.4V467.7 M363.44 466.4V467.7 M368.28 466.4V467.7 M372.23 466.4V467.7 M375.57 466.4V467.7 M378.46 466.4V467.7 M381.02 466.4V467.7 M398.32 466.4V467.7 M407.11 466.4V467.7 M413.34 466.4V467.7 M418.18 466.4V467.7 M422.13 466.4V467.7 M425.47 466.4V467.7 M428.36 466.4V467.7 M430.92 466.4V467.7 M448.22 466.4V467.7 M457.01 466.4V467.7 M463.24 466.4V467.7 M468.08 466.4V467.7 M472.03 466.4V467.7 M475.37 466.4V467.7 M478.26 466.4V467.7 M480.82 466.4V467.7" stroke="#111" stroke-width="0.8" fill="none"/>
<path d="M330.3 466.70H333.3 M330.3 429.90H333.3 M330.3 393.10H333.3 M330.3 356.30H333.3 M333.40 466.4V468.59999999999997 M383.30 466.4V468.59999999999997 M433.20 466.4V468.59999999999997 M483.10 466.4V468.59999999999997" stroke="#000" stroke-width="1.0" fill="none"/>
<circle cx="383.0" cy="393.4" r="2.1" fill="#8585CC"/>
<path d="M404.8 408.9H409.2L407.0 412.3Z" fill="#3A1358"/>
<rect x="427.1" y="424.9" width="5" height="4.7" fill="#A8102E"/>
<path d="M433.0 433.8H437.3L435.15 430.2Z" fill="#5AAB3A"/>
<circle cx="481.1" cy="361.7" r="2.0" fill="#8585CC"/>
<rect x="479.2" y="371.3" width="3.8" height="3.8" fill="#A8102E"/>
<path d="M478.9 386.7H483.3L481.1 383.5Z" fill="#5AAB3A"/>
<path d="M478.9 394.4H483.3L481.1 397.6Z" fill="#3A1358"/>
<text x="486.5" y="364.1" font-size="6.65" fill="#1a1a1a">Human</text>
<text x="486.5" y="375.6" font-size="6.65" fill="#1a1a1a">An101</text>
<text x="486.5" y="387.2" font-size="6.65" fill="#1a1a1a">An84</text>
<text x="486.5" y="398.4" font-size="6.65" fill="#1a1a1a">An63</text>
<text transform="translate(313.3 410.6) rotate(-90)" font-size="8.8" text-anchor="middle" textLength="89.1" lengthAdjust="spacingAndGlyphs" fill="#111" stroke="#111" stroke-width="0.15">VWF biosynthesis (fold human)</text>
<text x="409.4" y="491.8" font-size="8.7" text-anchor="middle" textLength="89.4" lengthAdjust="spacingAndGlyphs" fill="#111" stroke="#111" stroke-width="0.15">FVIII biosynthesis (fold human)</text>
<rect x="0.5" y="0.5" width="518.9" height="499.9" fill="none" stroke="#000" stroke-width="1.1"/>
</svg></body></html>
